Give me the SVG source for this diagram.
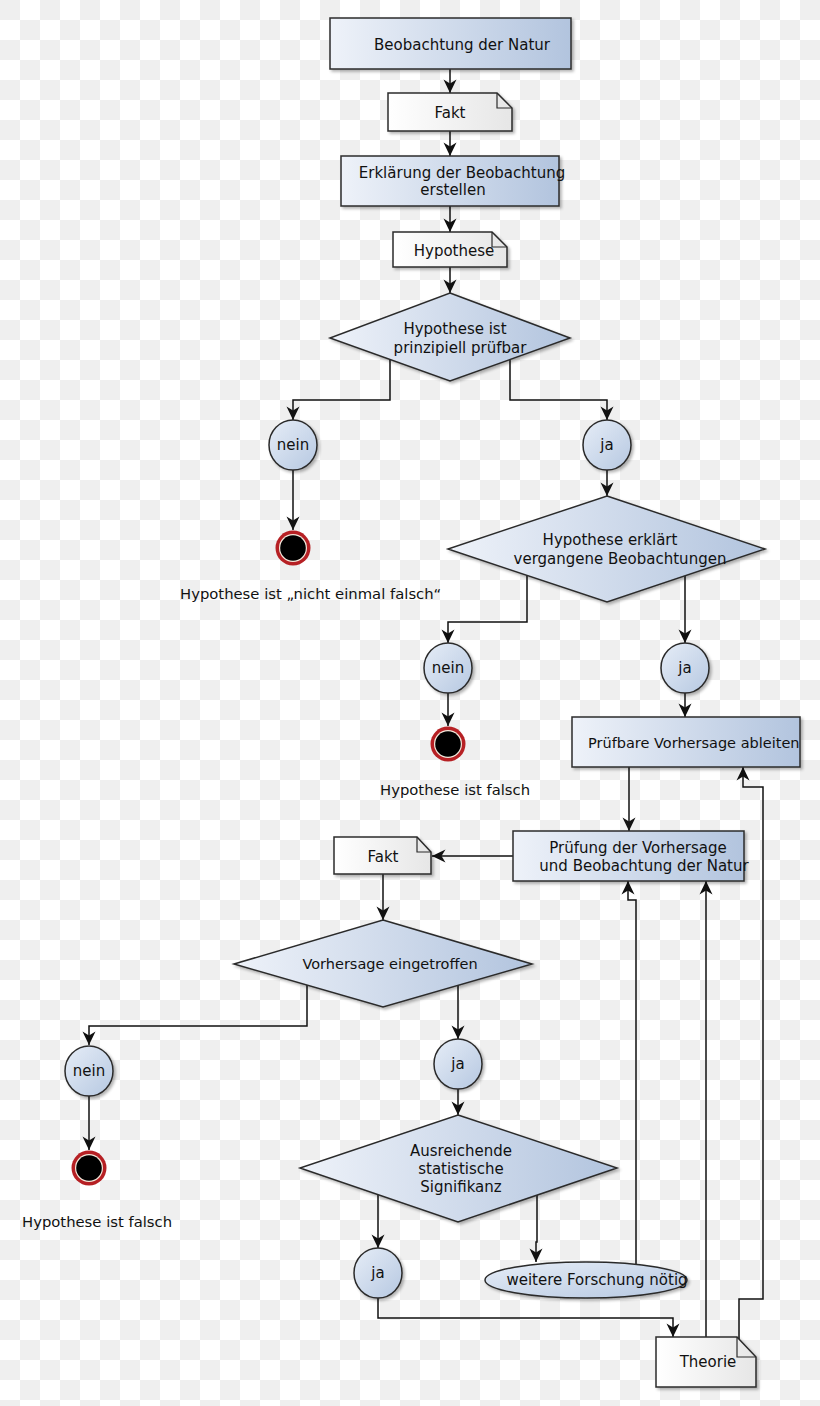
<svg xmlns="http://www.w3.org/2000/svg" width="820" height="1406" viewBox="0 0 820 1406">
<defs>
<pattern id="cb" width="40" height="40" patternUnits="userSpaceOnUse"><rect width="40" height="40" fill="#ffffff"/><rect width="20" height="20" fill="#efefef"/><rect x="20" y="20" width="20" height="20" fill="#efefef"/></pattern>
<linearGradient id="gb" x1="0" y1="0" x2="1" y2="0"><stop offset="0" stop-color="#eef2f9"/><stop offset="1" stop-color="#b2c4de"/></linearGradient>
<linearGradient id="gc" x1="0" y1="0" x2="1" y2="1"><stop offset="0" stop-color="#e6edf7"/><stop offset="1" stop-color="#b6c8e1"/></linearGradient>
<linearGradient id="gn" x1="0" y1="0" x2="1" y2="0"><stop offset="0" stop-color="#ffffff"/><stop offset="1" stop-color="#e6e6e6"/></linearGradient>
<filter id="sh" x="-10%" y="-10%" width="130%" height="140%"><feGaussianBlur in="SourceAlpha" stdDeviation="1.5"/><feOffset dx="2" dy="2"/><feComponentTransfer><feFuncA type="linear" slope="0.3"/></feComponentTransfer><feMerge><feMergeNode/><feMergeNode in="SourceGraphic"/></feMerge></filter>
<marker id="ar" viewBox="-14 -8 15 16" refX="0" refY="0" markerWidth="15" markerHeight="16" markerUnits="userSpaceOnUse" orient="auto"><path d="M0,0 L-13.5,-6.5 L-9.5,0 L-13.5,6.5 Z" fill="#111"/></marker>
<g id="endnode"><circle r="17.5" fill="#b62024"/><circle r="14" fill="#f3e9dc"/><circle r="12.8" fill="#000"/></g>
</defs>
<style>
.box{fill:url(#gb);stroke:#2b2b2b;stroke-width:1.5;filter:url(#sh)}
.circ{fill:url(#gc);stroke:#2b2b2b;stroke-width:1.5;filter:url(#sh)}
.note{fill:url(#gn);stroke:#2b2b2b;stroke-width:1.5;filter:url(#sh)}
.fold{fill:none;stroke:#2b2b2b;stroke-width:1.2}
.c{fill:none;stroke:#111;stroke-width:1.5;marker-end:url(#ar)}
text{font-family:"DejaVu Sans","Liberation Sans",sans-serif;font-size:15px;fill:#111}
.m{text-anchor:middle}
.s{font-size:14.5px}
.l{font-size:14.8px}
</style>
<rect width="820" height="1406" fill="url(#cb)"/>

<g id="connectors">
<path class="c" d="M450,69 V93"/>
<path class="c" d="M450,131 V156"/>
<path class="c" d="M450,206 V232"/>
<path class="c" d="M450,267 V293"/>
<path class="c" d="M390,360 V400 H293 V420"/>
<path class="c" d="M510,360 V400 H607 V420"/>
<path class="c" d="M293,470 V530"/>
<path class="c" d="M607,470 V496"/>
<path class="c" d="M527,575 V622 H448 V643"/>
<path class="c" d="M685,576 V643"/>
<path class="c" d="M448,693 V726"/>
<path class="c" d="M685,693 V717"/>
<path class="c" d="M629,767 V831"/>
<path class="c" d="M513,856 H432"/>
<path class="c" d="M383,874 V920"/>
<path class="c" d="M307,985 V1026 H89 V1045"/>
<path class="c" d="M458,985 V1039"/>
<path class="c" d="M89,1096 V1150"/>
<path class="c" d="M458,1089 V1115"/>
<path class="c" d="M378,1195 V1248"/>
<path class="c" d="M537,1195 V1242 H536 V1262"/>
<path class="c" d="M378,1298 V1318 H673 V1337"/>
<path class="c" d="M636,1264 V900 H628 V881"/>
<path class="c" d="M706,1337 V881"/>
<path class="c" d="M739,1339 V1299 H763 V787 H743 V767"/>
</g>

<g id="n-beobachtung">
<rect class="box" x="330" y="18" width="241" height="51"/>
<text x="462" y="50" class="m">Beobachtung der Natur</text>
</g>
<g id="n-fakt1">
<path class="note" d="M388,93 H497 L512,108 V131 H388 Z"/>
<path class="fold" d="M497,93 V108 H512"/>
<text x="450" y="118" class="m">Fakt</text>
</g>
<g id="n-erklaerung">
<rect class="box" x="341" y="156" width="218" height="50"/>
<text x="462" y="178" class="m">Erklärung der Beobachtung</text>
<text x="453" y="195" class="m">erstellen</text>
</g>
<g id="n-hypothese">
<path class="note" d="M393,232 H492 L507,247 V267 H393 Z"/>
<path class="fold" d="M492,232 V247 H507"/>
<text x="454" y="256" class="m">Hypothese</text>
</g>
<g id="d-pruefbar">
<polygon class="box" points="450,293 570,338 450,381 330,338"/>
<text x="455" y="334" class="m">Hypothese ist</text>
<text x="460" y="353" class="m">prinzipiell prüfbar</text>
</g>
<g id="c-nein1">
<ellipse class="circ" cx="293" cy="445" rx="24" ry="25"/>
<text x="293" y="450" class="m">nein</text>
</g>
<g id="c-ja1">
<ellipse class="circ" cx="607" cy="445" rx="24" ry="25"/>
<text x="607" y="450" class="m">ja</text>
</g>
<g id="e-end1">
<use href="#endnode" x="293" y="548"/>
<text x="180" y="599" class="l">Hypothese ist „nicht einmal falsch“</text>
</g>
<g id="d-erklaert">
<polygon class="box" points="607,496 765,549 607,602 448,549"/>
<text x="610" y="545" class="m">Hypothese erklärt</text>
<text x="620" y="564" class="m">vergangene Beobachtungen</text>
</g>
<g id="c-nein2">
<ellipse class="circ" cx="448" cy="668" rx="24" ry="25"/>
<text x="448" y="673" class="m">nein</text>
</g>
<g id="c-ja2">
<ellipse class="circ" cx="685" cy="668" rx="24" ry="25"/>
<text x="685" y="673" class="m">ja</text>
</g>
<g id="e-end2">
<use href="#endnode" x="448" y="744"/>
<text x="380" y="795" class="l">Hypothese ist falsch</text>
</g>
<g id="n-ableiten">
<rect class="box" x="572" y="717" width="228" height="50"/>
<text x="588" y="748" class="s">Prüfbare Vorhersage ableiten</text>
</g>
<g id="n-pruefung">
<rect class="box" x="513" y="831" width="231" height="50"/>
<text x="638" y="853" class="m">Prüfung der Vorhersage</text>
<text x="644" y="871" class="m">und Beobachtung der Natur</text>
</g>
<g id="n-fakt2">
<path class="note" d="M334,837 H417 L431,852 V874 H334 Z"/>
<path class="fold" d="M417,837 V852 H431"/>
<text x="383" y="862" class="m">Fakt</text>
</g>
<g id="d-eingetroffen">
<polygon class="box" points="383,920 532,964 383,1007 234,964"/>
<text x="390" y="969" class="m s">Vorhersage eingetroffen</text>
</g>
<g id="c-nein3">
<ellipse class="circ" cx="89" cy="1071" rx="24" ry="25"/>
<text x="89" y="1076" class="m">nein</text>
</g>
<g id="c-ja3">
<ellipse class="circ" cx="458" cy="1064" rx="24" ry="25"/>
<text x="458" y="1069" class="m">ja</text>
</g>
<g id="e-end3">
<use href="#endnode" x="89" y="1168"/>
<text x="22" y="1227" class="l">Hypothese ist falsch</text>
</g>
<g id="d-signifikanz">
<polygon class="box" points="458,1115 617,1168 458,1222 300,1168"/>
<text x="461" y="1156" class="m">Ausreichende</text>
<text x="461" y="1174" class="m">statistische</text>
<text x="461" y="1192" class="m">Signifikanz</text>
</g>
<g id="c-ja4">
<ellipse class="circ" cx="378" cy="1273" rx="24" ry="25"/>
<text x="378" y="1278" class="m">ja</text>
</g>
<g id="n-forschung">
<ellipse class="circ" cx="586" cy="1280" rx="101" ry="18"/>
<text x="597" y="1285" class="m">weitere Forschung nötig</text>
</g>
<g id="n-theorie">
<path class="note" d="M656,1337 H737 L756,1357 V1387 H656 Z"/>
<path class="fold" d="M737,1337 V1357 H756"/>
<text x="708" y="1367" class="m">Theorie</text>
</g>
</svg>
